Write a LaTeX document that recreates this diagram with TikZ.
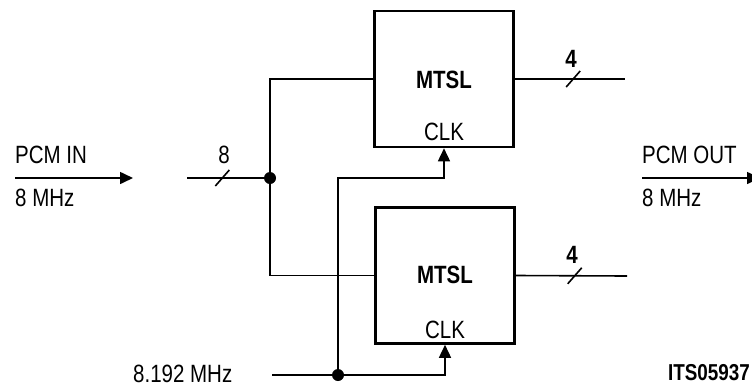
\documentclass[tikz,border=0pt]{standalone}
\usepackage{fontspec}
\setmainfont{Liberation Sans}
\newfontfamily\cond[FakeStretch=0.82]{Liberation Sans}
\usetikzlibrary{arrows.meta,positioning}

\begin{document}
\begin{tikzpicture}[x=1pt, y=-1pt,
  blk/.style={draw, line width=2.6pt, minimum width=139pt, minimum height=136pt, inner sep=0pt},
  wire/.style={line width=1.6pt},
  arr/.style={wire, -{Triangle[length=13pt, width=12pt]}},
  dot/.style={circle, fill, inner sep=0pt, minimum size=12pt},
  lab/.style={font=\cond\fontsize{25}{28}\selectfont, inner sep=0pt},
  bold/.style={lab, font=\cond\fontsize{25}{28}\selectfont\bfseries}]
\useasboundingbox (0,0) rectangle (752,386);
% the two MTSL blocks
\node[blk] (top) at (444,79)  {};
\node[blk] (bot) at (445,275.5) {};
\node[bold, anchor=base] (mtop) at ([yshift=-9pt]top.center) {MTSL};
\node[bold, anchor=base] (mbot) at ([yshift=-8pt]bot.center) {MTSL};
\node[lab, above=7pt of top.south] (ktop) {CLK};
\node[lab, above=6pt of bot.south] (kbot) {CLK};
% input side
\node[lab, anchor=base west] (pin)  at (15,163) {PCM IN};
\node[lab, anchor=base west] (fin)  at (15,206) {8 MHz};
\coordinate (ina) at (15,178);
\coordinate (inb) at (133,178);
\draw[arr] (ina) -- (inb);
\coordinate (bus) at (187,178);
\node[dot] (j1) at (270,178) {};
\draw[wire] (bus) -- (j1) coordinate[pos=0.46] (s0);
\draw[wire] ([shift={(-7,8)}]s0) -- ([shift={(7,-8)}]s0);
\node[lab, anchor=base] (n8) at (224,163) {8};
\draw[wire] (j1) |- (top.west);
\draw[wire] (j1) |- (bot.west);
% clock
\node[lab, anchor=base west] (clk) at (133,382) {8.192 MHz};
\coordinate (ck) at (272,375);
\node[dot] (j2) at (338,375) {};
\draw[arr] (ck) -| (bot.south);
\draw[arr] (j2) -- (j2 |- j1) -| (top.south);
% outputs
\coordinate (o1) at (625,79);
\coordinate (o2) at (627,276);
\draw[wire] (top.east) -- (o1) coordinate[pos=0.53] (s1);
\draw[wire] ([shift={(-7,8)}]s1) -- ([shift={(7,-8)}]s1);
\node[bold, anchor=base] (n4a) at (571,67) {4};
\draw[wire] (bot.east) -- (o2) coordinate[pos=0.53] (s2);
\draw[wire] ([shift={(-7,8)}]s2) -- ([shift={(7,-8)}]s2);
\node[bold, anchor=base] (n4b) at (572,263) {4};
\node[lab, anchor=base west] (pout) at (642,163) {PCM OUT};
\node[lab, anchor=base west] (fout) at (642,206) {8 MHz};
\coordinate (outa) at (642,178);
\coordinate (outb) at (760,178);
\draw[arr] (outa) -- (outb);
\node[lab, anchor=base east, font=\cond\fontsize{23}{25}\selectfont\bfseries] (its) at (750,380) {ITS05937};
\end{tikzpicture}
\end{document}
